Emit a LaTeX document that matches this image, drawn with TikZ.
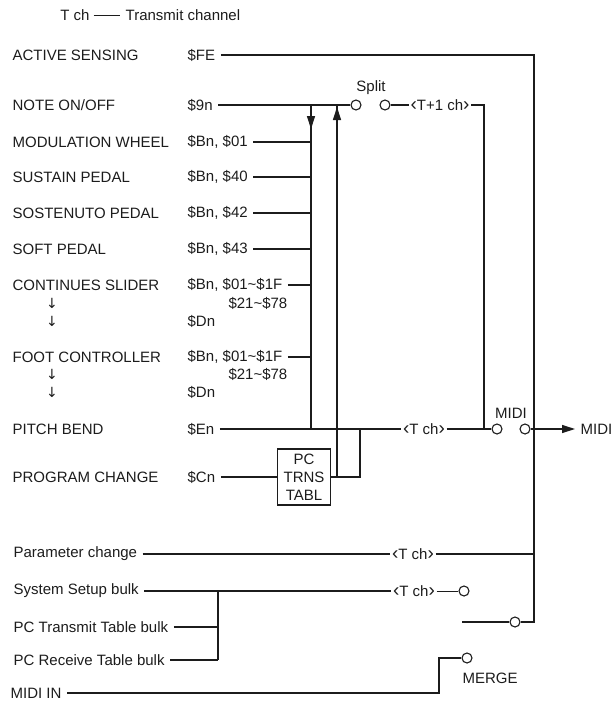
\documentclass[tikz,border=0pt]{standalone}
\usepackage{fontspec}
\setmainfont{Liberation Sans}
\newfontfamily\arrowfont{DejaVu Sans}
\usetikzlibrary{arrows.meta}
\definecolor{ink}{HTML}{1C1C1C}
\newcommand\lchev{{\fontsize{19}{19}\selectfont‹}}
\newcommand\rchev{{\fontsize{19}{19}\selectfont›}}

\begin{document}
\begin{tikzpicture}[x=1pt,y=-1pt,font=\fontsize{15}{18}\selectfont,color=ink,line width=1.3pt,
  >={Triangle[length=13pt,width=8pt]},
  lbl/.style={anchor=west,inner xsep=5pt,inner ysep=1pt},
  tag/.style={inner xsep=1pt,inner ysep=1pt},
  dn/.style={font=\arrowfont\fontsize{14}{14}\selectfont,inner sep=0pt},
  port/.style={circle,draw,line width=1.1pt,minimum size=10pt,inner sep=0pt},
  tabl/.style={draw,align=center,minimum width=53pt,minimum height=56pt,inner sep=2pt}]
  \useasboundingbox (0,0) rectangle (611,702);
  \node (tch) at (75,15) {T ch};
  \node[lbl] (tchtxt) at (120,15) {Transmit channel};
  \draw[line width=.8pt] (tch) -- (tchtxt);

  \node[lbl] (as) at (7,55) {ACTIVE SENSING};
  \node[lbl] (non) at (7,105) {NOTE ON/OFF};
  \node[lbl] (mod) at (7,142) {MODULATION WHEEL};
  \node[lbl] (sus) at (7,177) {SUSTAIN PEDAL};
  \node[lbl] (sos) at (7,213) {SOSTENUTO PEDAL};
  \node[lbl] (sft) at (7,249) {SOFT PEDAL};
  \node[lbl] (csl) at (7,285) {CONTINUES SLIDER};
  \node[dn] (csa1) at (52,303) {↓};
  \node[dn] (csa2) at (52,321) {↓};
  \node[lbl] (fc) at (7,357) {FOOT CONTROLLER};
  \node[dn] (fca1) at (52,374) {↓};
  \node[dn] (fca2) at (52,392) {↓};
  \node[lbl] (pb) at (7,429) {PITCH BEND};
  \node[lbl] (pgc) at (7,477) {PROGRAM CHANGE};

  \node[lbl] (fe) at (182,55) {\$FE};
  \node[lbl] (n9) at (182,105) {\$9n};
  \node[lbl] (b01) at (182,142) {\$Bn, \$01};
  \node[lbl] (b40) at (182,177) {\$Bn, \$40};
  \node[lbl] (b42) at (182,213) {\$Bn, \$42};
  \node[lbl] (b43) at (182,249) {\$Bn, \$43};
  \node[lbl] (bcs) at (182,285) {\$Bn, \$01\textasciitilde\$1F};
  \node[anchor=east,inner sep=0pt] (ccs) at (288,303) {\$21\textasciitilde\$78};
  \node[lbl] (dcs) at (182,321) {\$Dn};
  \node[lbl] (bfc) at (182,357) {\$Bn, \$01\textasciitilde\$1F};
  \node[anchor=east,inner sep=0pt] (cfc) at (288,374) {\$21\textasciitilde\$78};
  \node[lbl] (dfc) at (182,392) {\$Dn};
  \node[lbl] (en) at (182,429) {\$En};
  \node[lbl] (cn) at (182,477) {\$Cn};

  \coordinate (dtop) at (311,105);
  \coordinate (dbot) at (311,429);
  \coordinate (utop) at (337,105);
  \coordinate (uarr) at (337,131);
  \coordinate (rtop) at (534,55);
  \coordinate (rbot) at (534,622);
  \coordinate (t1r) at (484,105);
  \coordinate (pcout) at (360,477);
  \coordinate (pcup) at (360,429);

  % note on/off and split
  \node[port] (sp1) at (356,105) {};
  \node[port] (sp2) at (385,105) {};
  \node[inner sep=0pt] (spl) at (371,88) {Split};
  \node[tag] (tp1) at (440,105) {\lchev T+1 ch\rchev};
  \draw (n9) -- (sp1);
  \draw (sp2) -- (tp1) -- (t1r) -- (t1r |- dbot);

  % controllers
  \draw (dtop) -- (dbot);
  \draw[->] (dtop) -- ++(0,24);
  \foreach \c in {b01,b40,b42,b43,bcs,bfc}
    \draw (\c) -- (\c -| dtop);

  % program change
  \node[tabl] (pctab) at (304,477) {PC\\TRNS\\TABL};
  \draw (cn) -- (pctab);
  \draw (pctab) -- (pcout) -- (pcup);
  \draw (utop |- pcout) -- (utop);
  \draw[->] (uarr) -- ++(0,-24);

  % midi out
  \node[tag] (tpb) at (424,429) {\lchev T ch\rchev};
  \node[port] (ml) at (497,429) {};
  \node[port] (mr) at (525,429) {};
  \node[inner sep=0pt] (mlbl) at (511,413) {MIDI};
  \node[lbl] (mout) at (575,429) {MIDI};
  \draw (en) -- (tpb) -- (ml);
  \draw[->] (mr) -- (mout);
  \node[port] (mix) at (515,622) {};
  \coordinate (mixin) at (462,622);
  \draw (fe) -- (rtop) -- (rbot) -- (mix);
  \draw (mixin) -- (mix);

  % bulk
  \node[lbl] (prm) at (8,554) {Parameter change};
  \node[tag] (tprm) at (413,554) {\lchev T ch\rchev};
  \draw (prm) -- (tprm) -- (tprm -| rtop);
  \node[lbl] (sys) at (8,591) {System Setup bulk};
  \node[tag] (tsys) at (414,591) {\lchev T ch\rchev};
  \node[port] (sysp) at (464,591) {};
  \draw (sys) -- (tsys);
  \draw[line width=.8pt] (tsys) -- (sysp);
  \node[lbl] (pct) at (8,627) {PC Transmit Table bulk};
  \node[lbl] (pcr) at (8,660) {PC Receive Table bulk};
  \coordinate (jn) at (218,591);
  \draw (jn) -- (jn |- pcr);
  \draw (pct) -- (jn |- pct);
  \draw (pcr) -- (jn |- pcr);

  % merge
  \node[lbl] (min) at (5,693) {MIDI IN};
  \node[port] (mrg) at (467,658) {};
  \node[anchor=west,inner sep=0pt] (mrgt) at (462,678) {MERGE};
  \coordinate (mk) at (439,693);
  \draw (min) -- (mk) -- (mk |- mrg) -- (mrg);
\end{tikzpicture}
\end{document}
